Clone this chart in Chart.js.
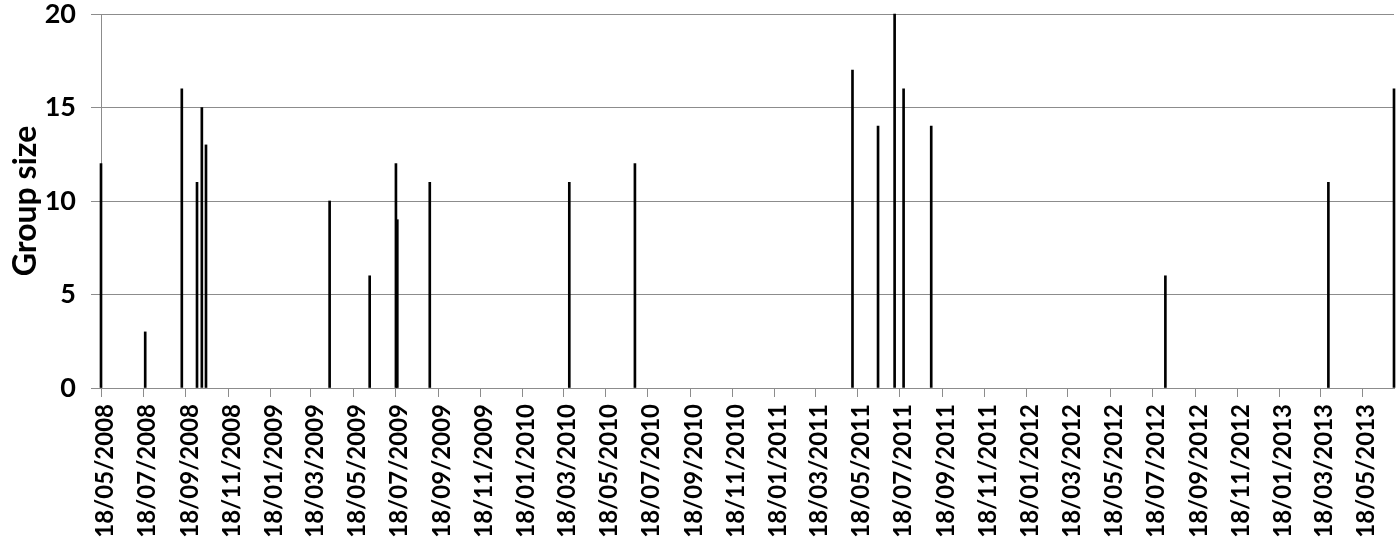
<!DOCTYPE html>
<html lang="en">
<head>
  <meta charset="UTF-8" />
  <title>Group size over time</title>
  <script src="https://cdn.jsdelivr.net/npm/chart.js"></script>
  <style>
    * { margin: 0; padding: 0; box-sizing: border-box; }
    body { background: #fff; width: 1400px; height: 538px; overflow: hidden; }
    #chart-container { position: relative; width: 1400px; height: 538px; }
  </style>
</head>
<body>
  <div id="chart-container">
    <canvas id="groupChart"></canvas>
  </div>

  <script>
    // event dates (dd/mm/yyyy) and group sizes
    const EVENT_DATES = [
      '18/05/2008', '21/07/2008', '12/09/2008', '04/10/2008', '11/10/2008', '17/10/2008',
      '14/04/2009', '11/06/2009', '19/07/2009', '21/07/2009', '06/09/2009',
      '27/03/2010', '30/06/2010',
      '11/05/2011', '17/06/2011', '11/07/2011', '24/07/2011', '02/09/2011',
      '06/08/2012', '30/03/2013', '03/07/2013'
    ];
    const GROUP_SIZES = [
      12, 3, 16, 11, 15, 13,
      10, 6, 12, 9, 11,
      11, 12,
      17, 14, 20, 16, 14,
      6, 11, 16
    ];
    const TICK_LABELS = [
      '18/05/2008', '18/07/2008', '18/09/2008', '18/11/2008',
      '18/01/2009', '18/03/2009', '18/05/2009', '18/07/2009', '18/09/2009', '18/11/2009',
      '18/01/2010', '18/03/2010', '18/05/2010', '18/07/2010', '18/09/2010', '18/11/2010',
      '18/01/2011', '18/03/2011', '18/05/2011', '18/07/2011', '18/09/2011', '18/11/2011',
      '18/01/2012', '18/03/2012', '18/05/2012', '18/07/2012', '18/09/2012', '18/11/2012',
      '18/01/2013', '18/03/2013', '18/05/2013'
    ];
    const Y_TICKS = [0, 5, 10, 15, 20];

    const FONT = "Lato, 'Open Sans', sans-serif";
    const GRID = '#8c8c8c';

    // days since the first tick date
    function dayOf(str) {
      const [d, m, y] = str.split('/').map(Number);
      const start = TICK_LABELS[0].split('/').map(Number);
      return (Date.UTC(y, m - 1, d) - Date.UTC(start[2], start[1] - 1, start[0])) / 86400000;
    }

    const points = EVENT_DATES.map((d, i) => ({ x: dayOf(d), y: GROUP_SIZES[i] }));
    const tickDays = TICK_LABELS.map(dayOf);
    const lastDay = dayOf(EVENT_DATES[EVENT_DATES.length - 1]);

    const ctx = document.getElementById('groupChart').getContext('2d');
    new Chart(ctx, {
      type: 'bar',
      data: {
        datasets: [{
          data: points,
          backgroundColor: '#000',
          borderWidth: 0,
          barThickness: 2,
          clip: false
        }]
      },
      options: {
        responsive: true,
        maintainAspectRatio: false,
        animation: false,
        layout: { padding: { top: 14, right: 6, left: 0, bottom: 0 } },
        plugins: {
          legend: { display: false },
          tooltip: { enabled: false }
        },
        scales: {
          x: {
            type: 'linear',
            min: 0,
            max: lastDay,
            offset: false,
            afterBuildTicks: (scale) => {
              scale.ticks = tickDays.map(v => ({ value: v }));
            },
            afterFit: (scale) => {
              scale.height = 150;
              scale.paddingLeft = 0;
              scale.paddingRight = 0;
            },
            grid: {
              drawOnChartArea: false,
              drawTicks: true,
              tickLength: 9,
              tickColor: GRID,
              offset: false
            },
            border: { display: true, color: GRID },
            ticks: {
              autoSkip: false,
              maxRotation: 90,
              minRotation: 90,
              padding: 7,
              labelOffset: 4,
              color: '#000',
              font: { family: FONT, size: 24, weight: 'bold' },
              callback: (value) => {
                const i = tickDays.indexOf(value);
                return i >= 0 ? TICK_LABELS[i] : '';
              }
            }
          },
          y: {
            min: 0,
            max: 20,
            afterBuildTicks: (scale) => {
              scale.ticks = Y_TICKS.map(v => ({ value: v }));
            },
            // fixed width, and no extra room kept for the half-height of the end labels
            afterFit: (scale) => {
              scale.width = 101;
              scale.paddingTop = 0;
              scale.paddingBottom = 0;
            },
            grid: {
              color: GRID,
              lineWidth: 1,
              drawTicks: true,
              tickLength: 10,
              tickColor: GRID
            },
            border: { display: true, color: GRID },
            title: {
              display: true,
              text: 'Group size',
              color: '#000',
              padding: { top: 6, bottom: 0 },
              font: { family: FONT, size: 32, weight: 'bold' }
            },
            ticks: {
              padding: 15,
              color: '#000',
              font: { family: FONT, size: 27, weight: 'bold' }
            }
          }
        }
      }
    });
  </script>
</body>
</html>
